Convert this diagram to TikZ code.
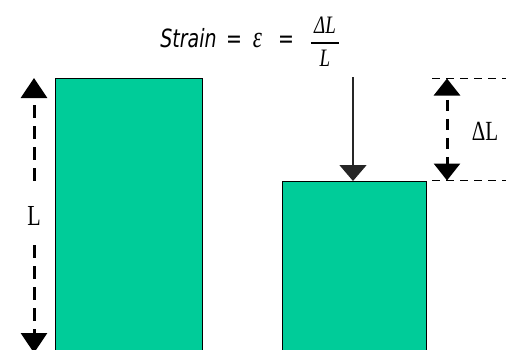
\documentclass[tikz,border=0pt]{standalone}
\usepackage{fontspec}
\usepackage{amsmath}
\setmainfont{Liberation Serif}
\newfontfamily\titlefont{DejaVu Sans}
\usetikzlibrary{arrows.meta}
\definecolor{bargreen}{RGB}{0,204,153}
\tikzset{
  barbox/.style={draw=black, line width=1.2pt, fill=bargreen, inner sep=0pt, anchor=north west},
  dimdash/.style={line width=3pt, dash pattern=on 13pt off 8pt},
  guide/.style={line width=1.3pt, dash pattern=on 8pt off 6pt},
  bigtip/.tip={Triangle[width=26pt,length=20pt]},
  midtip/.tip={Triangle[width=26pt,length=17pt]},
  lbl/.style={inner sep=0pt, font=\fontsize{21}{25}\selectfont},
  ttl/.style={inner sep=0pt, anchor=base, font=\fontsize{19}{23}\selectfont},
  force/.style={line width=1.5pt, draw=black!85, -{Triangle[width=27pt,length=16pt]}},
}
\newcommand{\tallt}[1]{\scalebox{1}[1.32]{#1}}
\begin{document}
\begin{tikzpicture}[x=1pt,y=-1pt]
\useasboundingbox (0,0) rectangle (506,349);
\clip (0,0) rectangle (506,349);
% bars
\node[barbox, minimum width=147pt, minimum height=300pt] (barA) at (55,78) {};
\node[barbox, minimum width=144pt, minimum height=200pt] (barB) at (282,181) {};
% title
\node[ttl] (strain) at (188.5,47) {\tallt{\titlefont\itshape Strain}};
\node[ttl] (eq1) at (234,47) {\tallt{\titlefont =}};
\node[ttl, font=\fontsize{23}{27}\selectfont] (eps) at (257.5,47) {\tallt{\itshape ε}};
\node[ttl] (eq2) at (286,47) {\tallt{\titlefont =}};
\node[inner sep=0pt, font=\fontsize{19}{23}\selectfont] (frac) at (325,42)
  {\tallt{$\genfrac{}{}{1.5pt}{0}{\mbox{\,\itshape ΔL\,}}{\mbox{\itshape L}}$}};
% force arrow
\coordinate (ftop) at (353,77);
\draw[force] (ftop) -- (ftop |- barB.north);
% left dimension L
\coordinate (ltop) at (34,78);
\coordinate (lupper) at (34,183);
\coordinate (llower) at (34,245);
\coordinate (lbot) at (34,353);
\node[lbl, font=\fontsize{22}{26}\selectfont] (L) at (34,215.5) {\tallt{L}};
\draw[dimdash, dash phase=13pt, bigtip-] (ltop) -- (lupper);
\draw[dimdash, -bigtip] (llower) -- (lbot);
% delta L dimension
\coordinate (gtop) at (432,78.5);
\coordinate (gtopend) at (506,78.5);
\coordinate (gbot) at (432,180.5);
\coordinate (gbotend) at (506,180.5);
\draw[guide] (gtop) -- (gtopend);
\draw[guide] (gbot) -- (gbotend);
\coordinate (dlx) at (447,0);
\draw[line width=3pt, dash pattern=on 11pt off 8pt, dash phase=14pt, midtip-midtip]
  (dlx |- gtop) -- (dlx |- gbot);
\node[lbl] (dL) at (485,131) {\tallt{ΔL}};
\end{tikzpicture}
\end{document}
